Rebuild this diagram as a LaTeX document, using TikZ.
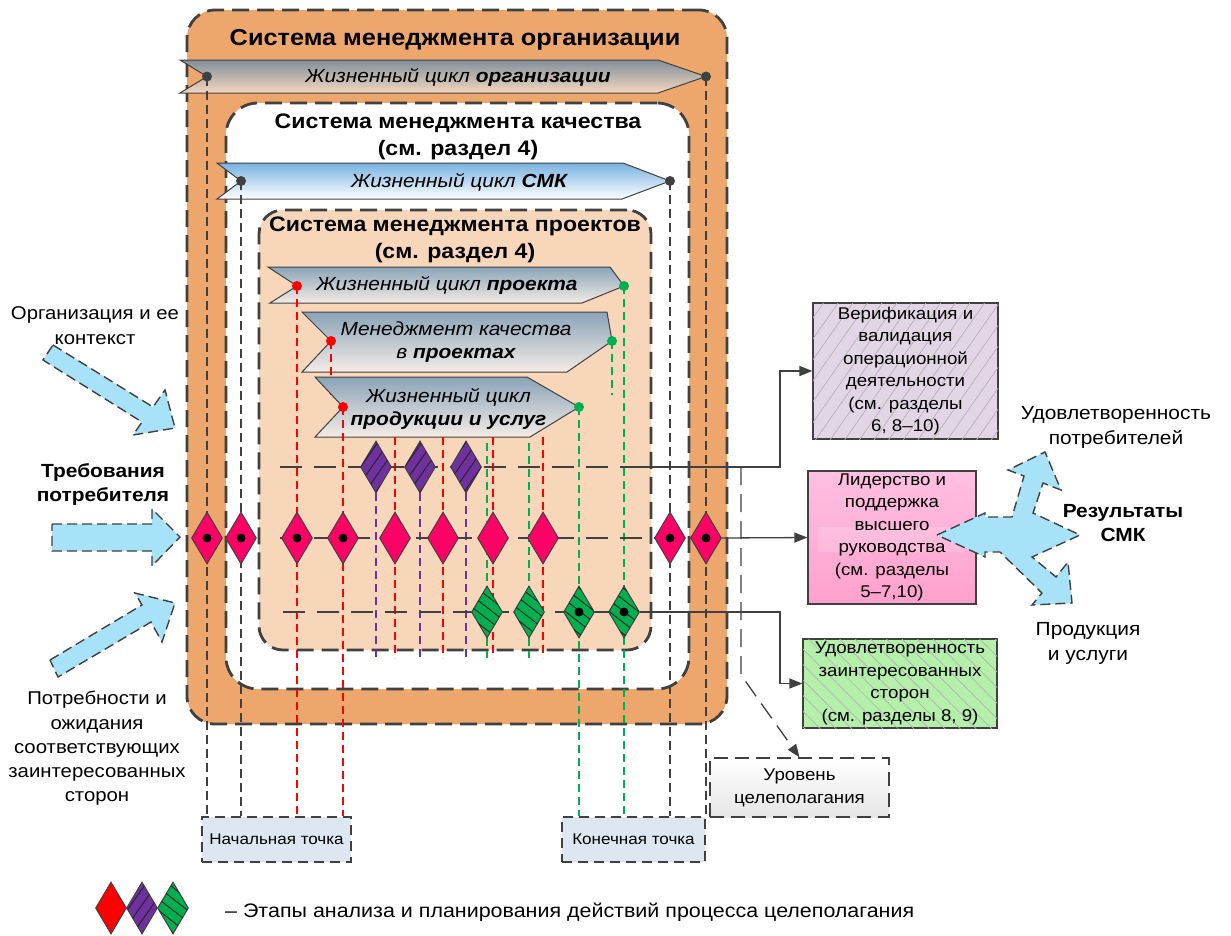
\documentclass[tikz,border=0pt]{standalone}
\usepackage{fontspec}
\setmainfont{Liberation Sans}[FakeStretch=1.1]
\usetikzlibrary{shapes.geometric,arrows.meta,patterns.meta}

\definecolor{frame}{RGB}{64,64,64}
\definecolor{orgfill}{RGB}{237,167,108}
\definecolor{projfill}{RGB}{247,214,185}
\definecolor{stagered}{RGB}{255,0,102}
\definecolor{stagepurple}{RGB}{112,48,160}
\definecolor{stagegreen}{RGB}{0,176,80}
\definecolor{linered}{RGB}{255,0,0}
\definecolor{arrowblue}{RGB}{168,226,248}
\definecolor{verifill}{RGB}{226,214,230}
\definecolor{leadtop}{RGB}{255,192,226}
\definecolor{leadbot}{RGB}{255,160,205}
\definecolor{satfill}{RGB}{180,240,170}
\definecolor{pointfill}{RGB}{221,231,242}
\definecolor{orgtop}{RGB}{128,144,156}
\definecolor{orgbot}{RGB}{245,214,190}
\definecolor{qmstop}{RGB}{120,178,225}
\definecolor{prjtop}{RGB}{138,164,184}
\definecolor{prjbot}{RGB}{244,236,230}

\newcommand\fsz[2]{\fontsize{#1}{#2}\selectfont}

\begin{document}
\begin{tikzpicture}[x=1pt, y=-1pt,
  sysframe/.style={draw=frame, line width=2.8pt, dash pattern=on 17pt off 8pt, rounded corners=#1, inner sep=0pt},
  systitle/.style={font=\bfseries\fsz{21}{27}, align=center, inner sep=0pt},
  banner/.style={draw=frame, line width=1pt},
  bantext/.style={font=\itshape\fsz{19}{23}, align=center, inner sep=0pt},
  bdot/.style={circle, inner sep=0pt, minimum size=10pt},
  vgray/.style={draw=frame, line width=1.3pt, dash pattern=on 9pt off 5pt},
  vred/.style={draw=linered, line width=1.2pt, dash pattern=on 8pt off 5pt},
  vgreen/.style={draw=stagegreen, line width=1.2pt, dash pattern=on 8pt off 5pt},
  vpurple/.style={draw=stagepurple, line width=1.2pt, dash pattern=on 8pt off 5pt},
  rowline/.style={draw=frame, line width=1.3pt, dash pattern=on 22pt off 12pt},
  conn/.style={draw=frame, line width=1.3pt, -{Triangle[length=13pt,width=10pt]}},
  lvlconn/.style={conn, dash pattern=on 18pt off 9pt},
  stagebox/.style={diamond, draw=frame, line width=1pt, inner sep=0pt, minimum width=31pt, minimum height=52pt},
  redstage/.style={stagebox, fill=stagered},
  purstage/.style={stagebox, fill=stagepurple, postaction={pattern={Lines[angle=55,distance=9pt,line width=1pt]}, pattern color=black!85}},
  grnstage/.style={stagebox, fill=stagegreen, postaction={pattern={Lines[angle=-38,distance=9pt,line width=1pt]}, pattern color=black!85}},
  ptbox/.style={draw=frame, line width=1.3pt, dash pattern=on 10pt off 6pt, fill=pointfill, inner sep=0pt, font=\fsz{15.5}{19}},
  lvlbox/.style={draw=frame, line width=1.3pt, dash pattern=on 14pt off 7pt, top color=white, bottom color=black!10, inner sep=0pt, align=center, font=\fsz{17}{23}},
  outbox/.style={draw=frame, line width=1.2pt, inner sep=0pt, align=center, font=\fsz{17}{22.5}},
  boxtext/.style={inner sep=0pt, align=center, font=\fsz{17}{22.5}},
  bigarrow/.style={draw=frame, fill=arrowblue, line width=1.4pt, dash pattern=on 10pt off 5pt, line join=miter},
  lbl/.style={inner sep=0pt, align=center, font=\fsz{18.5}{24.3}},
  lblb/.style={inner sep=0pt, align=center, font=\bfseries\fsz{19}{24}},
  rlbl/.style={inner sep=0pt, align=center, font=\fsz{19}{25}},
]
\useasboundingbox (0,0) rectangle (1231,935);
\fill[white] (0,0) rectangle (1231,935);

% ---------- start / end points and goal level ----------
\node[ptbox, minimum width=149pt, minimum height=45pt] (start) at (276.5,839.5) {Начальная точка};
\node[ptbox, minimum width=143pt, minimum height=45pt] (finish) at (633.5,839.5) {Конечная точка};
\node[lvlbox, minimum width=179pt, minimum height=59pt] (level) at (799.5,787.5) {Уровень\\целеполагания};

% ---------- outcome boxes ----------
\node[outbox, fill=verifill, postaction={pattern={Lines[angle=55,distance=12pt,line width=0.7pt]}, pattern color=black!30},
      minimum width=185pt, minimum height=136pt] (verif) at (905.5,371)
      {Верификация и\\валидация\\операционной\\деятельности\\(см. разделы\\6, 8–10)};
\node[outbox, top color=leadtop, bottom color=leadbot, minimum width=168pt, minimum height=133pt] (lead) at (892,537.5) {};
\fill[white, opacity=0.16] (818,527) rectangle (965,552);
\node[boxtext] (lead-text) at (lead.center) {Лидерство и\\поддержка\\высшего\\руководства\\(см. разделы\\5–7,10)};
\node[outbox, fill=satfill, postaction={pattern={Lines[angle=-45,distance=11pt,line width=0.7pt]}, pattern color=black!30},
      minimum width=194pt, minimum height=89pt] (sat) at (900,683.5)
      {Удовлетворенность\\заинтересованных\\сторон\\(см. разделы 8, 9)};

% ---------- organisation management system ----------
\node[sysframe=28pt, fill=orgfill, minimum width=540pt, minimum height=714pt] (org) at (457,367) {};
\node[systitle, font=\bfseries\fsz{23}{28}] (org-title) at (455,40) {Система менеджмента организации};
\draw[banner, top color=orgtop, bottom color=orgbot]
  (180,60) -- (658,60) -- (706,76.5) -- (658,93) -- (180,93) -- (207,76.5) -- cycle;
\node[bantext] (org-life) at (458,77) {Жизненный цикл \textbf{организации}};

% ---------- quality management system ----------
\node[sysframe=32pt, fill=white, minimum width=463pt, minimum height=586pt] (qms) at (457.5,396) {};
\node[systitle] (qms-title) at (458,136.5) {Система менеджмента качества\\(см. раздел 4)};
\draw[banner, top color=qmstop, bottom color=white]
  (217,163) -- (623,163) -- (670,181) -- (622,199) -- (217,199) -- (241,181) -- cycle;
\node[bantext] (qms-life) at (459,182) {Жизненный цикл \textbf{СМК}};

% ---------- project management system ----------
\node[sysframe=24pt, fill=projfill, minimum width=392pt, minimum height=440pt] (prj) at (455,430) {};
\node[systitle] (prj-title) at (455,240) {Система менеджмента проектов\\(см. раздел 4)};
\draw[banner, top color=prjtop, bottom color=prjbot]
  (268,267) -- (610,267) -- (624,286) -- (582,303) -- (270,303) -- (297,286) -- cycle;
\node[bantext] (prj-life) at (447,285) {Жизненный цикл \textbf{проекта}};
\draw[banner, top color=prjtop, bottom color=prjbot]
  (302,312) -- (607,312) -- (612,341) -- (567,372) -- (302,372) -- (331,341) -- cycle;
\node[bantext] (qip) at (456,342.5) {Менеджмент качества\\в \textbf{проектах}};

% start / end points of the life cycles
\coordinate (o-l) at (207,76.5);  \coordinate (o-r) at (706,76.5);
\coordinate (q-l) at (241,181);   \coordinate (q-r) at (670,181);
\coordinate (p-l) at (297,286);   \coordinate (p-r) at (624,286);
\coordinate (m-l) at (331,341);   \coordinate (m-r) at (612,341);
\coordinate (u-l) at (343,407);   \coordinate (u-r) at (579,407);
\coordinate (m-stop) at (0,395);

\draw[vred]   (m-l) -- (m-l |- m-stop);
\draw[vgreen] (m-r) -- (m-r |- m-stop);

\draw[banner, top color=prjtop, bottom color=prjbot]
  (315,377) -- (527,377) -- (579,407) -- (530,437) -- (315,437) -- (343,407) -- cycle;
\node[bantext] (pls) at (448.5,408.5) {Жизненный цикл\\\textbf{продукции и услуг}};

% stage positions
\coordinate (s1) at (207,538);  \coordinate (s2) at (241,538);
\coordinate (s3) at (297,538);  \coordinate (s4) at (343,538);
\coordinate (s5) at (395,538);  \coordinate (s6) at (443,538);
\coordinate (s7) at (493,538);  \coordinate (s8) at (543,538);
\coordinate (s9) at (670,538);  \coordinate (s10) at (706,538);
\coordinate (v1) at (376,467);  \coordinate (v2) at (420,467);  \coordinate (v3) at (466,467);
\coordinate (g1) at (487,612);  \coordinate (g2) at (529,612);
\coordinate (g3) at (579,612);  \coordinate (g4) at (624,612);
\coordinate (red-top) at (0,437);
\coordinate (grn-top) at (0,443);
\coordinate (stem-end) at (0,658);

% drop lines of the life cycles
\draw[vgray]  (o-l) -- (o-l |- start.north);
\draw[vgray]  (q-l) -- (q-l |- start.north);
\draw[vred]   (p-l) -- (p-l |- start.north);
\draw[vred]   (u-l) -- (u-l |- start.north);
\draw[vgreen] (u-r) -- (u-r |- finish.north);
\draw[vgreen] (p-r) -- (p-r |- finish.north);
\draw[vgray]  (q-r) -- (q-r |- finish.north);
\draw[vgray]  (o-r) -- (o-r |- finish.north);

% stage stems
\foreach \s in {s5,s6,s7,s8} \draw[vred] (\s |- red-top) -- (\s |- stem-end);
\foreach \s in {g1,g2} \draw[vgreen] (\s |- grn-top) -- (\s |- stem-end);
\foreach \s in {v1,v2,v3} \draw[vpurple] (\s) -- (\s |- stem-end);

% stage rows
\coordinate (vrow-a) at (280,467);  \coordinate (vrow-b) at (640,467);
\coordinate (vrow-c) at (741,467);  \coordinate (vrow-d) at (780,467);
\coordinate (mrow-a) at (280,538);  \coordinate (mrow-b) at (656,538);
\coordinate (grow-a) at (283,612);  \coordinate (grow-d) at (780,612);
\draw[rowline] (vrow-a) -- (vrow-b);
\draw[rowline] (mrow-a) -- (mrow-b);
\draw[rowline] (grow-a) -- (g4);
\draw[conn] (vrow-b) -- (vrow-d) |- (verif.west);
\draw[lvlconn] (vrow-c) -- ++(0,208) -- (level.north);

% stages
\foreach \s [count=\i] in {s1,s2,s3,s4,s5,s6,s7,s8,s9,s10}
  \node[redstage] (d\i) at (\s) {};
\foreach \s [count=\i] in {v1,v2,v3}
  \node[purstage] (pd\i) at (\s) {};
\foreach \s [count=\i] in {g1,g2,g3,g4}
  \node[grnstage] (gd\i) at (\s) {};
\foreach \s in {s1,s2,s3,s4,s9,s10,g3,g4}
  \fill[black] (\s) circle (4.5);

\draw[conn] (d10.east) -- (lead.west);
\draw[conn] (gd4.east) -- (grow-d) |- (sat.west);

% life-cycle markers
\foreach \p in {o-l,o-r,q-l,q-r} \node[bdot, fill=frame] at (\p) {};
\foreach \p in {p-l,m-l,u-l} \node[bdot, fill=linered] at (\p) {};
\foreach \p in {p-r,m-r,u-r} \node[bdot, fill=stagegreen] at (\p) {};

% ---------- inputs ----------
\node[lbl] (ctx) at (95,325.5) {Организация и ее\\контекст};
\node[lblb] (req) at (103,484) {Требования\\потребителя};
\node[lbl] (needs) at (97,748.5) {Потребности и\\ожидания\\соответствующих\\заинтересованных\\сторон};
\draw[bigarrow] (53,345) -- (153,407) -- (165,390) -- (175,428) -- (133,435) -- (142,422) -- (43,360) -- cycle;
\draw[bigarrow] (52,524) -- (152,524) -- (152,509) -- (180,537) -- (152,566) -- (152,551) -- (52,551) -- cycle;
\draw[bigarrow] (50,660) -- (142,605) -- (135,593) -- (175,603) -- (162,642) -- (151,622) -- (58,677) -- cycle;

% ---------- results ----------
\draw[bigarrow] (937,535) -- (985,513) -- (985,517) -- (1012,517) -- (1024,476) -- (1008,470) -- (1045,452)
  -- (1061,490) -- (1043,483) -- (1033,513) -- (1080,535) -- (1032,557) -- (1056,577) -- (1068,562)
  -- (1072,603) -- (1032,605) -- (1042,593) -- (1000,552) -- (985,552) -- (985,557) -- cycle;
\node[rlbl] (csat) at (1116,427.5) {Удовлетворенность\\потребителей};
\node[lblb] (res) at (1123,523) {Результаты\\СМК};
\node[rlbl] (prod) at (1088,643.5) {Продукция\\и услуги};

% ---------- legend ----------
\node[stagebox, fill=linered] (lg1) at (111,908) {};
\node[purstage] (lg2) at (142,908) {};
\node[grnstage] (lg3) at (173,908) {};
\node[anchor=west, inner sep=0pt, font=\fsz{19.5}{22}] (lg-text) at (225,912)
  {– Этапы анализа и планирования действий процесса целеполагания};
\end{tikzpicture}
\end{document}
